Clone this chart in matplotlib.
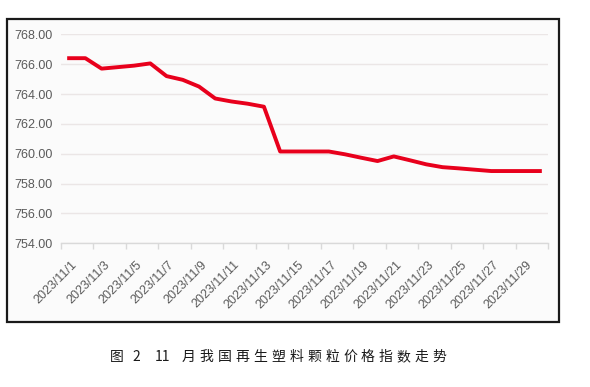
import matplotlib
matplotlib.use("Agg")
import matplotlib.pyplot as plt
from matplotlib.patches import Rectangle
from matplotlib.transforms import ScaledTranslation

plt.rcParams['font.family'] = ['Noto Sans CJK SC', 'DejaVu Sans']

dates = [f"2023/11/{d}" for d in range(1, 31)]
values = [766.4, 766.4, 765.7, 765.8, 765.9, 766.05, 765.2, 764.95, 764.5, 763.7,
          763.5, 763.35, 763.15, 760.15, 760.15, 760.15, 760.15, 759.96, 759.73, 759.51,
          759.82, 759.56, 759.29, 759.1, 759.02, 758.93, 758.84, 758.84, 758.84, 758.84]
yticks = [754, 756, 758, 760, 762, 764, 766, 768]
caption_parts = ["图", "2", "11", "月", "我", "国", "再", "生", "塑", "料", "颗", "粒",
                 "价", "格", "指", "数", "走", "势"]

W, H = 590, 387
fig = plt.figure(figsize=(W/100, H/100), dpi=100)

# outer frame (background layer)
bg = fig.add_axes([0, 0, 1, 1], zorder=-5)
bg.set_xlim(0, W)
bg.set_ylim(H, 0)
bg.axis('off')
bg.add_patch(Rectangle((7, 19), 552, 302.5, facecolor='#fbfbfb', edgecolor='#1a1a1a',
                       linewidth=1.6))

ax = fig.add_axes([61/W, 1-243.3/H, (548-61)/W, (243.3-34.3)/H], zorder=1)
ax.set_facecolor('none')
x = list(range(len(dates)))
ax.plot(x, values, color='#e8001c', linewidth=2.8, solid_joinstyle='round', zorder=3)
ax.set_xlim(-0.5, len(dates)-0.5)
ax.set_ylim(754, 768)
ax.set_yticks(yticks)
ax.set_yticklabels([f"{v:.2f}" for v in yticks], color='#5a5a5a', fontsize=9,
                   family=['Liberation Sans', 'DejaVu Sans'])
ax.yaxis.grid(True, color='#ebe6e6', linewidth=1.0)
ax.set_axisbelow(True)
ax.tick_params(axis='y', length=0, pad=6)
for s in ['top', 'right', 'left']:
    ax.spines[s].set_visible(False)
ax.spines['bottom'].set_color('#d9d9d9')
ax.spines['bottom'].set_linewidth(1.0)

# labels every 2 days at category centres, tick marks between categories
ax.set_xticks(x[::2])
ax.set_xticklabels(dates[::2], rotation=45, ha='right', va='center', rotation_mode='anchor',
                   color='#5a5a5a', fontsize=9, family=['Liberation Sans', 'DejaVu Sans'])
ax.tick_params(axis='x', length=0, pad=14)
off = ScaledTranslation(0.06, 0, fig.dpi_scale_trans)
for lab in ax.get_xticklabels():
    lab.set_transform(lab.get_transform() + off)
ax.set_xticks([i - 0.5 for i in range(0, len(dates)+1, 2)], minor=True)
ax.tick_params(axis='x', which='minor', length=4, color='#d9d9d9', width=1.0)

# caption with wide spacing
starts = [110, 132, 155] + [182 + 17.9*k for k in range(len(caption_parts)-3)]
for px, part in zip(starts, caption_parts):
    bg.text(px, 357, part, fontsize=10, color='#1a1a1a', ha='left', va='center',
            family=['Noto Sans CJK SC', 'DejaVu Sans'])

fig.savefig('out.png', dpi=100)
